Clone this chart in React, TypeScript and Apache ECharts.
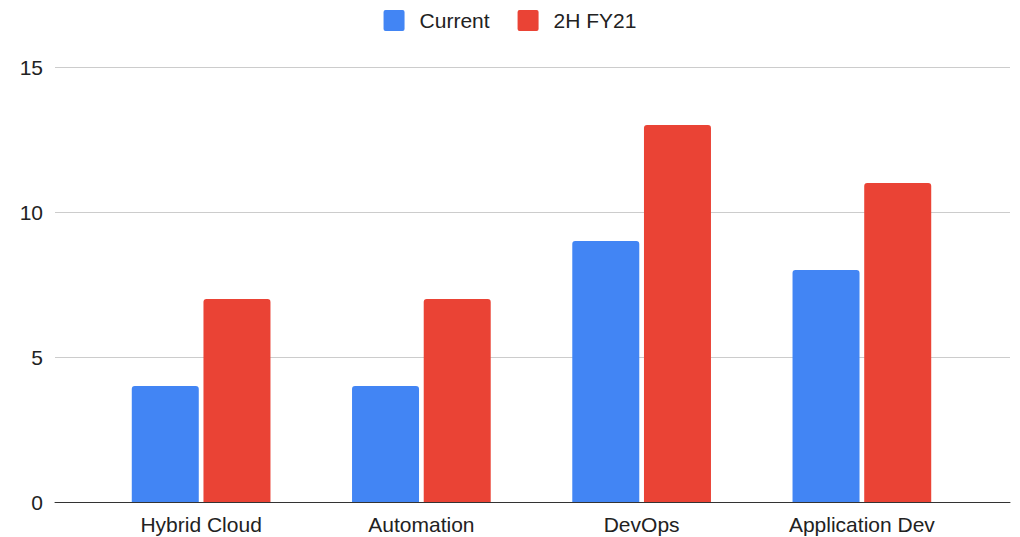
import React, { useEffect, useRef } from "react";
import * as echarts from "echarts";

const categories = ["Hybrid Cloud", "Automation", "DevOps", "Application Dev"];
const currentValues = [4, 4, 9, 8];
const fy21Values = [7, 7, 13, 11];
const seriesNames = ["Current", "2H FY21"];
const yMin = 0;
const yMax = 15;
const yInterval = 5;

const FONT = "Arial, 'Liberation Sans', sans-serif";
const ICON = "path://M2,0 H19 Q21,0 21,2 V19 Q21,21 19,21 H2 Q0,21 0,19 V2 Q0,0 2,0 Z";

export default function App() {
  const ref = useRef<HTMLDivElement>(null);
  useEffect(() => {
    if (!ref.current) return;
    const chart = echarts.init(ref.current, null, { renderer: "svg" });
    chart.setOption({
      animation: false,
      backgroundColor: "#ffffff",
      textStyle: { fontFamily: FONT },
      legend: {
        top: 10,
        left: "center",
        padding: 0,
        icon: ICON,
        itemWidth: 21,
        itemHeight: 21,
        itemGap: 28,
        textStyle: {
          fontSize: 21,
          color: "#222222",
          fontFamily: FONT,
          padding: [0, 0, 0, 10],
        },
        data: seriesNames,
      },
      grid: [
        { left: 55, right: 10, top: 67, bottom: 35 },
        { left: 91, right: 48, top: 67, bottom: 35 },
      ],
      xAxis: [
        {
          gridIndex: 0,
          type: "category",
          data: categories,
          axisLine: { show: true, lineStyle: { color: "#333333", width: 1 } },
          axisTick: { show: false },
          axisLabel: { show: false },
          splitLine: { show: false },
        },
        {
          gridIndex: 1,
          type: "category",
          data: categories,
          axisLine: { show: false },
          axisTick: { show: false },
          axisLabel: {
            show: true,
            fontSize: 21,
            color: "#222222",
            fontFamily: FONT,
            margin: 12,
          },
        },
      ],
      yAxis: [
        {
          gridIndex: 0,
          type: "value",
          min: yMin,
          max: yMax,
          interval: yInterval,
          axisLine: { show: false },
          axisTick: { show: false },
          axisLabel: {
            fontSize: 21,
            color: "#222222",
            fontFamily: FONT,
            margin: 12,
          },
          splitLine: { show: true, lineStyle: { color: "#cccccc", width: 1 } },
        },
        {
          gridIndex: 1,
          type: "value",
          min: yMin,
          max: yMax,
          interval: yInterval,
          show: false,
          splitLine: { show: false },
        },
      ],
      series: [
        {
          name: seriesNames[0],
          type: "bar",
          xAxisIndex: 1,
          yAxisIndex: 1,
          data: currentValues,
          barWidth: 67,
          barGap: "7%",
          itemStyle: { color: "#4285F4", borderRadius: [3, 3, 0, 0] },
          z: 3,
        },
        {
          name: seriesNames[1],
          type: "bar",
          xAxisIndex: 1,
          yAxisIndex: 1,
          data: fy21Values,
          barWidth: 67,
          barGap: "7%",
          itemStyle: { color: "#EA4335", borderRadius: [3, 3, 0, 0] },
          z: 3,
        },
      ],
    });
    return () => chart.dispose();
  }, []);
  return (
    <div
      ref={ref}
      style={{ position: "fixed", left: 0, top: 0, width: 1020, height: 537 }}
    />
  );
}
